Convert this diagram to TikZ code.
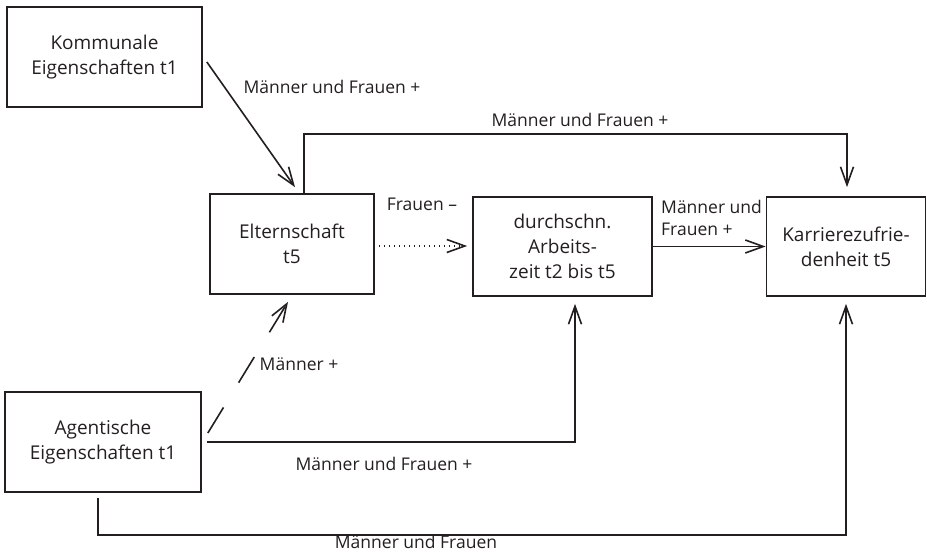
\documentclass[tikz,border=0pt]{standalone}
\usepackage{fontspec}
\setmainfont{Open Sans}
\usetikzlibrary{arrows.meta}
\definecolor{ink}{RGB}{35,31,32}
\tikzset{
  box/.style={draw=ink, line width=1.7pt, text=ink, align=center, inner sep=0pt,
    font=\fontsize{19}{25}\selectfont},
  lbl/.style={text=ink, inner sep=0pt, font=\fontsize{17.5}{22}\selectfont},
  arr/.style={draw=ink, line width=1.6pt, -{Straight Barb[length=18pt,width=13pt]}},
}
\begin{document}
\begin{tikzpicture}[x=1pt,y=-1pt]
\useasboundingbox (0,0) rectangle (927,552);
\node[box, minimum width=195pt, minimum height=100pt] (kom) at (104.5,57) {Kommunale\\Eigenschaften t1};
\node[box, minimum width=164pt, minimum height=100pt] (elt) at (292,244) {Elternschaft\\t5};
\node[box, minimum width=179pt, minimum height=99pt] (dur) at (562.5,246.5) {durchschn.\\Arbeits-\\zeit t2 bis t5};
\node[box, minimum width=159pt, minimum height=99pt] (kar) at (846,246.5) {Karrierezufrie-\\denheit t5};
\node[box, minimum width=196pt, minimum height=100pt] (ag) at (103,442) {Agentische\\Eigenschaften t1};

% Kommunale -> Elternschaft
\draw[arr] ([xshift=4pt,yshift=-5pt]kom.east) -- ([xshift=3pt,yshift=6pt]elt.north);
\node[lbl] (l1) at (332,87) {Männer und Frauen +};

% Elternschaft -> Karriere (top)
\draw[arr] ([xshift=12pt]elt.north) -- ++(0,59pt) -| ([xshift=1pt,yshift=9pt]kar.north);
\node[lbl] (l2) at (580,120) {Männer und Frauen +};

% Elternschaft -> durchschn (dotted)
\draw[arr, dash pattern=on 1.4pt off 3.6pt] ([xshift=4pt,yshift=-2pt]elt.east) -- ([xshift=-5pt,yshift=-2pt]elt.east -| dur.west);
\node[lbl] (l3) at (422,204) {Frauen –};

% durchschn -> Karriere
\draw[arr] (dur.east) -- (kar.west);
\node[lbl, align=left, anchor=west] (l4) at (661,218) {Männer und\\Frauen +};

% Agentische -> Elternschaft (dashed)
\draw[arr, dash pattern=on 30pt off 29pt] ([xshift=6pt,yshift=9pt]ag.east) -- ([xshift=-4pt,yshift=-7pt]elt.south);
\node[lbl] (l5) at (299,364) {Männer +};

% Agentische -> durchschn
\draw[arr] ([xshift=5pt]ag.east) -| ([xshift=12.5pt,yshift=-7pt]dur.south);
\node[lbl] (l6) at (384,464) {Männer und Frauen +};

% Agentische -> Karriere (bottom)
\draw[arr] ([xshift=-5pt,yshift=-5pt]ag.south) -- ++(0,-37pt) -| ([yshift=-7pt]kar.south);
\node[lbl] (l7) at (416,542) {Männer und Frauen};
\end{tikzpicture}
\end{document}
